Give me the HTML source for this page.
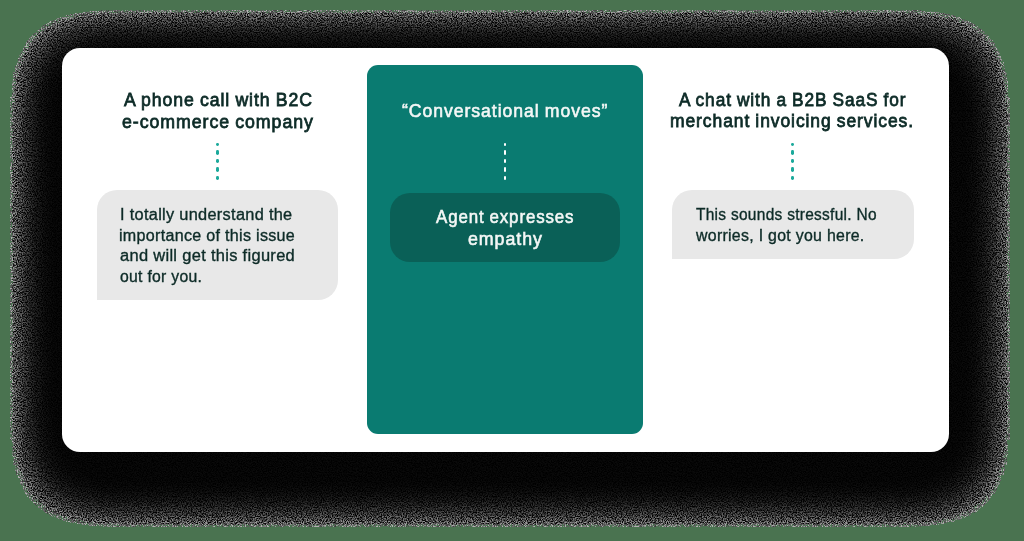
<!DOCTYPE html>
<html><head><meta charset="utf-8">
<style>

html,body{margin:0;padding:0;}
body{width:1024px;height:541px;position:relative;overflow:hidden;background:#4a7350;font-family:"Liberation Sans",sans-serif;}
.shsvg{position:absolute;left:0;top:0;}
.card{position:absolute;left:62px;top:48px;width:886.8px;height:403.5px;border-radius:18px;background:#fff;}
.panel{position:absolute;left:367px;top:65px;width:276px;height:369px;border-radius:11px;background:#0a7b71;}
.inner{position:absolute;left:390px;top:193px;width:230px;height:69px;border-radius:20px;background:#0a6057;}
.bubble{position:absolute;background:#e8e8e8;border-radius:20px 20px 20px 0;}
.dot{position:absolute;width:2.8px;border-radius:1.4px;}
.t{position:absolute;white-space:nowrap;line-height:1;}
.h{font-weight:normal;-webkit-text-stroke:0.8px #0d2b27;font-size:19px;letter-spacing:1px;word-spacing:-0.7px;color:#0d2b27;transform-origin:0 0;}
.hw{font-weight:normal;-webkit-text-stroke:0.6px #f4f7f6;font-size:19px;letter-spacing:1px;word-spacing:-0.7px;color:#f4f7f6;transform-origin:0 0;}
.b{font-size:16px;letter-spacing:0.3px;-webkit-text-stroke:0.35px #0d2b27;color:#0d2b27;transform-origin:0 0;}

</style></head><body>

<svg class="shsvg" width="1024" height="541" viewBox="0 0 1024 541"><defs><filter id="sh" x="0" y="0" width="1024" height="541" filterUnits="userSpaceOnUse" color-interpolation-filters="sRGB"><feGaussianBlur in="SourceAlpha" stdDeviation="28" result="blur"/><feColorMatrix in="blur" type="matrix" values="0 0 0 1 0 0 0 0 1 0 0 0 0 1 0 0 0 0 0 1" result="a4"/><feComponentTransfer in="a4" result="shade"><feFuncR type="table" tableValues="0.380 0.380 0.380 0.380 0.352 0.334 0.301 0.285 0.255 0.241 0.227 0.214 0.202 0.190 0.179 0.173 0.168 0.158 0.148 0.143 0.138 0.130 0.125 0.121 0.113 0.109 0.106 0.102 0.098 0.095 0.092 0.089 0.085 0.082 0.079 0.077 0.074 0.071 0.069 0.066 0.064 0.062 0.059 0.058 0.056 0.055 0.053 0.051 0.050 0.049 0.048 0.046 0.045 0.044 0.043 0.042 0.041 0.040 0.038 0.038 0.037 0.036 0.035 0.034 0.034 0.033 0.032 0.032 0.031 0.031 0.030 0.030 0.029 0.029 0.028 0.028 0.027 0.027 0.026 0.026 0.025 0.025 0.025 0.025 0.024 0.024 0.024 0.023 0.023 0.023 0.023 0.022 0.022 0.022 0.022 0.022 0.022 0.021 0.021 0.021 0.021 0.021 0.021 0.021 0.021 0.021 0.021 0.020 0.020 0.020 0.020 0.020 0.020 0.020 0.020 0.020 0.020 0.020 0.020 0.020 0.020 0.020 0.020 0.020 0.020 0.020 0.020 0.020 0.020 0.020 0.020 0.020 0.020 0.020 0.020 0.020 0.020 0.020 0.020 0.020 0.020 0.020 0.020 0.020 0.020 0.020 0.020 0.020 0.020 0.020 0.020 0.020 0.020 0.020 0.020 0.020 0.020 0.020 0.020 0.020 0.020 0.020 0.020 0.020 0.020 0.020 0.020 0.020 0.020 0.020 0.020 0.020 0.020 0.020 0.020 0.020 0.020 0.020 0.020 0.020 0.020 0.020 0.020 0.020 0.020 0.020 0.020 0.020 0.020 0.020 0.020 0.020 0.020 0.020 0.020 0.020 0.020 0.020 0.020 0.020 0.020 0.020 0.020 0.020 0.020 0.020 0.020 0.020 0.020 0.020 0.020 0.020 0.020 0.020 0.020 0.020 0.020 0.020 0.020 0.020 0.020 0.020 0.020 0.020 0.020 0.020 0.020 0.020 0.020 0.020 0.020 0.020 0.020 0.020 0.020 0.020 0.020 0.020 0.020 0.020 0.020 0.020 0.020 0.020 0.020 0.020 0.020 0.020 0.020 0.020 0.020 0.020 0.020 0.020 0.020 0.020"/><feFuncG type="table" tableValues="0.380 0.380 0.380 0.380 0.352 0.334 0.301 0.285 0.255 0.241 0.227 0.214 0.202 0.190 0.179 0.173 0.168 0.158 0.148 0.143 0.138 0.130 0.125 0.121 0.113 0.109 0.106 0.102 0.098 0.095 0.092 0.089 0.085 0.082 0.079 0.077 0.074 0.071 0.069 0.066 0.064 0.062 0.059 0.058 0.056 0.055 0.053 0.051 0.050 0.049 0.048 0.046 0.045 0.044 0.043 0.042 0.041 0.040 0.038 0.038 0.037 0.036 0.035 0.034 0.034 0.033 0.032 0.032 0.031 0.031 0.030 0.030 0.029 0.029 0.028 0.028 0.027 0.027 0.026 0.026 0.025 0.025 0.025 0.025 0.024 0.024 0.024 0.023 0.023 0.023 0.023 0.022 0.022 0.022 0.022 0.022 0.022 0.021 0.021 0.021 0.021 0.021 0.021 0.021 0.021 0.021 0.021 0.020 0.020 0.020 0.020 0.020 0.020 0.020 0.020 0.020 0.020 0.020 0.020 0.020 0.020 0.020 0.020 0.020 0.020 0.020 0.020 0.020 0.020 0.020 0.020 0.020 0.020 0.020 0.020 0.020 0.020 0.020 0.020 0.020 0.020 0.020 0.020 0.020 0.020 0.020 0.020 0.020 0.020 0.020 0.020 0.020 0.020 0.020 0.020 0.020 0.020 0.020 0.020 0.020 0.020 0.020 0.020 0.020 0.020 0.020 0.020 0.020 0.020 0.020 0.020 0.020 0.020 0.020 0.020 0.020 0.020 0.020 0.020 0.020 0.020 0.020 0.020 0.020 0.020 0.020 0.020 0.020 0.020 0.020 0.020 0.020 0.020 0.020 0.020 0.020 0.020 0.020 0.020 0.020 0.020 0.020 0.020 0.020 0.020 0.020 0.020 0.020 0.020 0.020 0.020 0.020 0.020 0.020 0.020 0.020 0.020 0.020 0.020 0.020 0.020 0.020 0.020 0.020 0.020 0.020 0.020 0.020 0.020 0.020 0.020 0.020 0.020 0.020 0.020 0.020 0.020 0.020 0.020 0.020 0.020 0.020 0.020 0.020 0.020 0.020 0.020 0.020 0.020 0.020 0.020 0.020 0.020 0.020 0.020 0.020"/><feFuncB type="table" tableValues="0.380 0.380 0.380 0.380 0.352 0.334 0.301 0.285 0.255 0.241 0.227 0.214 0.202 0.190 0.179 0.173 0.168 0.158 0.148 0.143 0.138 0.130 0.125 0.121 0.113 0.109 0.106 0.102 0.098 0.095 0.092 0.089 0.085 0.082 0.079 0.077 0.074 0.071 0.069 0.066 0.064 0.062 0.059 0.058 0.056 0.055 0.053 0.051 0.050 0.049 0.048 0.046 0.045 0.044 0.043 0.042 0.041 0.040 0.038 0.038 0.037 0.036 0.035 0.034 0.034 0.033 0.032 0.032 0.031 0.031 0.030 0.030 0.029 0.029 0.028 0.028 0.027 0.027 0.026 0.026 0.025 0.025 0.025 0.025 0.024 0.024 0.024 0.023 0.023 0.023 0.023 0.022 0.022 0.022 0.022 0.022 0.022 0.021 0.021 0.021 0.021 0.021 0.021 0.021 0.021 0.021 0.021 0.020 0.020 0.020 0.020 0.020 0.020 0.020 0.020 0.020 0.020 0.020 0.020 0.020 0.020 0.020 0.020 0.020 0.020 0.020 0.020 0.020 0.020 0.020 0.020 0.020 0.020 0.020 0.020 0.020 0.020 0.020 0.020 0.020 0.020 0.020 0.020 0.020 0.020 0.020 0.020 0.020 0.020 0.020 0.020 0.020 0.020 0.020 0.020 0.020 0.020 0.020 0.020 0.020 0.020 0.020 0.020 0.020 0.020 0.020 0.020 0.020 0.020 0.020 0.020 0.020 0.020 0.020 0.020 0.020 0.020 0.020 0.020 0.020 0.020 0.020 0.020 0.020 0.020 0.020 0.020 0.020 0.020 0.020 0.020 0.020 0.020 0.020 0.020 0.020 0.020 0.020 0.020 0.020 0.020 0.020 0.020 0.020 0.020 0.020 0.020 0.020 0.020 0.020 0.020 0.020 0.020 0.020 0.020 0.020 0.020 0.020 0.020 0.020 0.020 0.020 0.020 0.020 0.020 0.020 0.020 0.020 0.020 0.020 0.020 0.020 0.020 0.020 0.020 0.020 0.020 0.020 0.020 0.020 0.020 0.020 0.020 0.020 0.020 0.020 0.020 0.020 0.020 0.020 0.020 0.020 0.020 0.020 0.020 0.020"/></feComponentTransfer><feTurbulence type="fractalNoise" baseFrequency="0.8" numOctaves="2" seed="7" result="noise"/><feColorMatrix in="noise" type="matrix" values="3 0 0 0 -1 3 0 0 0 -1 3 0 0 0 -1 0 0 0 0 1" result="nc"/><feComposite in="shade" in2="nc" operator="arithmetic" k1="2" k2="0" k3="0" k4="0" result="mix"/><feColorMatrix in="nc" type="matrix" values="0 0 0 0 0 0 0 0 0 0 0 0 0 0 0 0.8 0 0 0 0.6" result="na"/><feComposite in="blur" in2="na" operator="arithmetic" k1="1" k2="0" k3="0" k4="0" result="ma"/><feComponentTransfer in="ma" result="mask"><feFuncA type="discrete" tableValues="0 1 1 1 1 1 1 1 1 1 1 1 1 1 1 1 1 1 1 1 1 1 1 1 1 1 1 1 1 1 1 1 1 1 1 1 1 1 1 1 1 1 1 1 1 1 1 1 1 1 1 1 1 1 1 1 1 1 1 1 1 1 1 1 1 1 1 1 1 1 1 1"/></feComponentTransfer><feComposite in="mix" in2="mask" operator="in"/></filter></defs><rect x="66" y="66" width="888" height="405" fill="#000" filter="url(#sh)"/></svg>
<div class="card"></div>
<div class="panel"></div>
<div class="inner"></div>
<div class="bubble" style="left:97px;top:190px;width:241px;height:110px;"></div>
<div class="bubble" style="left:672px;top:190px;width:242px;height:69px;"></div>
<div class="dot" style="left:216.10px;top:142.95px;height:3.30px;background:#1ba99b"></div>
<div class="dot" style="left:216.10px;top:150.30px;height:4.60px;background:#1ba99b"></div>
<div class="dot" style="left:216.10px;top:158.80px;height:4.60px;background:#1ba99b"></div>
<div class="dot" style="left:216.10px;top:167.40px;height:4.60px;background:#1ba99b"></div>
<div class="dot" style="left:216.10px;top:176.00px;height:3.60px;background:#1ba99b"></div>
<div class="dot" style="left:503.70px;top:142.95px;height:3.30px;background:#ffffff"></div>
<div class="dot" style="left:503.70px;top:150.30px;height:4.60px;background:#ffffff"></div>
<div class="dot" style="left:503.70px;top:158.80px;height:4.60px;background:#ffffff"></div>
<div class="dot" style="left:503.70px;top:167.40px;height:4.60px;background:#ffffff"></div>
<div class="dot" style="left:503.70px;top:176.00px;height:3.60px;background:#ffffff"></div>
<div class="dot" style="left:791.20px;top:142.95px;height:3.30px;background:#1ba99b"></div>
<div class="dot" style="left:791.20px;top:150.30px;height:4.60px;background:#1ba99b"></div>
<div class="dot" style="left:791.20px;top:158.80px;height:4.60px;background:#1ba99b"></div>
<div class="dot" style="left:791.20px;top:167.40px;height:4.60px;background:#1ba99b"></div>
<div class="dot" style="left:791.20px;top:176.00px;height:3.60px;background:#1ba99b"></div>

<div class="t h" id="l1" style="left:124.12px;top:89.71px;transform:scaleX(0.9305)">A phone call with B2C</div>
<div class="t h" id="l2" style="left:122.00px;top:111.71px;transform:scaleX(0.9346)">e-commerce company</div>
<div class="t hw" id="m1" style="left:401.77px;top:100.50px;transform:scaleX(0.9293)">“Conversational moves”</div>
<div class="t hw" id="m2" style="left:436.13px;top:207.11px;transform:scaleX(0.8885)">Agent expresses</div>
<div class="t hw" id="m3" style="left:467.97px;top:228.50px;transform:scaleX(0.9375)">empathy</div>
<div class="t h" id="r1" style="left:679.29px;top:89.80px;transform:scaleX(0.9100)">A chat with a B2B SaaS for</div>
<div class="t h" id="r2" style="left:670.23px;top:110.91px;transform:scaleX(0.9198)">merchant invoicing services.</div>
<div class="t b" id="b1" style="left:120.38px;top:206.91px;transform:scaleX(1.0202)">I totally understand the</div>
<div class="t b" id="b2" style="left:119.40px;top:227.61px;transform:scaleX(1.0046)">importance of this issue</div>
<div class="t b" id="b3" style="left:120.41px;top:248.11px;transform:scaleX(1.0282)">and will get this figured</div>
<div class="t b" id="b4" style="left:120.40px;top:268.61px;transform:scaleX(0.9831)">out for you.</div>
<div class="t b" id="c1" style="left:696.38px;top:206.91px;transform:scaleX(0.9663)">This sounds stressful. No</div>
<div class="t b" id="c2" style="left:696.39px;top:228.00px;transform:scaleX(0.9918)">worries, I got you here.</div>
</body></html>
